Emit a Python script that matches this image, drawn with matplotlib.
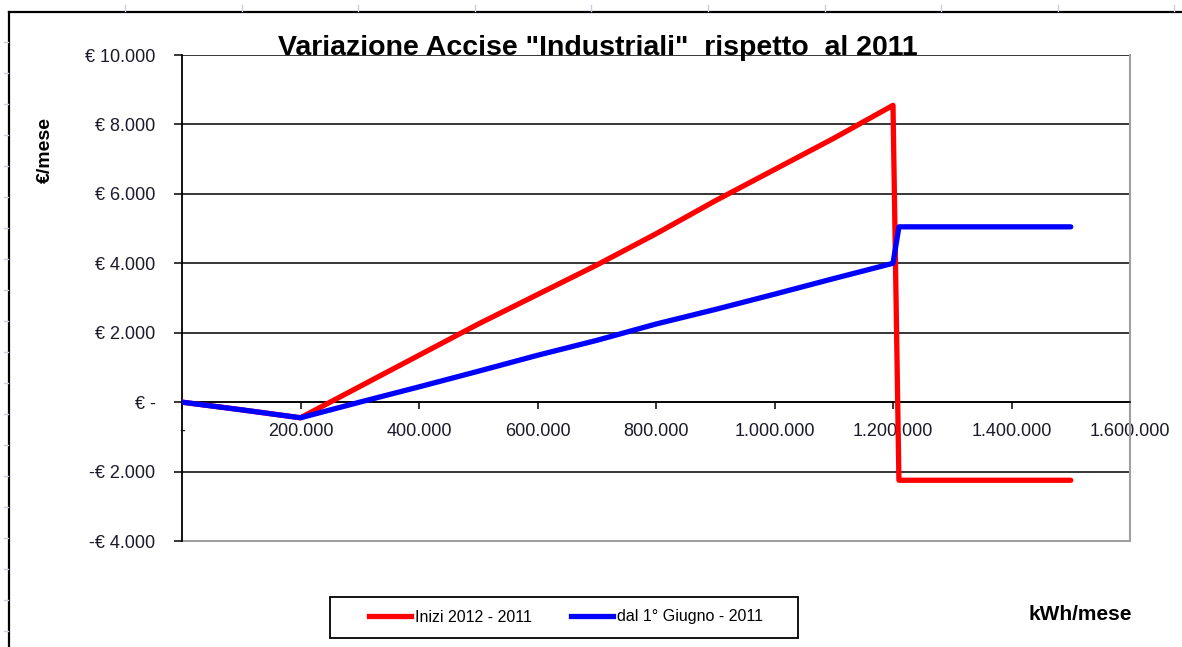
import matplotlib.pyplot as plt
from matplotlib.lines import Line2D
from matplotlib.patches import Rectangle
from matplotlib.ticker import FuncFormatter

plt.rcParams['font.family'] = ['Liberation Sans', 'DejaVu Sans']

#----------DATA----------
kwh = [0, 100000, 200000, 300000, 400000, 500000, 600000, 700000,
       800000, 900000, 1000000, 1100000, 1200000, 1210000, 1500000]
inizi_2012 = [0, -220, -450, 450, 1350, 2250, 3100, 3950,
              4850, 5800, 6700, 7600, 8550, -2250, -2250]
giugno = [0, -220, -450, 0, 440, 890, 1350, 1780,
          2250, 2670, 3110, 3560, 4000, 5050, 5050]

title = 'Variazione Accise "Industriali"  rispetto  al 2011'
series_labels = ["Inizi 2012 - 2011", "dal 1° Giugno - 2011"]


def it_num(v):
    # thousands with a dot, italian style
    return f"{int(round(v)):,}".replace(",", ".")


def euro_fmt(v, pos):
    if abs(v) < 1e-9:
        return "€ -"
    if v < 0:
        return "-€ " + it_num(-v)
    return "€ " + it_num(v)


def kwh_fmt(v, pos):
    if abs(v) < 1e-9:
        return "-"
    return it_num(v)


#----------FIGURE----------
fig = plt.figure(figsize=(11.82, 6.47), dpi=100)
W, H = 1182, 647
ax = fig.add_axes([182 / W, 1 - 541 / H, (1130 - 182) / W, (541 - 55) / H])

ax.plot(kwh, inizi_2012, color="#ff0000", lw=3.8, solid_joinstyle="round",
        solid_capstyle="round", zorder=3)
ax.plot(kwh, giugno, color="#0000ff", lw=3.8, solid_joinstyle="round",
        solid_capstyle="round", zorder=4)

ax.set_xlim(0, 1600000)
ax.set_ylim(-4000, 10000)
ax.set_yticks(range(-4000, 10001, 2000))
ax.set_xticks(range(0, 1600001, 200000))
ax.yaxis.set_major_formatter(FuncFormatter(euro_fmt))
ax.xaxis.set_major_formatter(FuncFormatter(kwh_fmt))

# horizontal gridlines
for yv in range(-2000, 10001, 2000):
    ax.axhline(yv, color="black", lw=1.1, zorder=1)

# x axis crosses at zero
ax.spines["bottom"].set_position(("data", 0))
ax.spines["bottom"].set_color("black")
ax.spines["bottom"].set_linewidth(1.2)
ax.spines["left"].set_linewidth(1.3)
ax.spines["top"].set_visible(False)
ax.spines["right"].set_color("#a0a0a0")
ax.spines["right"].set_linewidth(1.5)
# bottom frame edge (gray)
ax.axhline(-4000, color="#a0a0a0", lw=1.5, zorder=1, clip_on=False)

ax.tick_params(axis="y", direction="out", length=6, width=1.1, labelsize=13, pad=13)
ax.tick_params(axis="x", direction="out", length=5, width=1.1, labelsize=13, pad=10)
for lab in ax.get_xticklabels() + ax.get_yticklabels():
    lab.set_color("#1a1a2a")

ax.set_ylabel("€/mese", fontsize=14, fontweight="bold")
ax.yaxis.set_label_coords(-128 / (1130 - 182), 1 - (150 - 55) / (541 - 55))

fig.text(598 / W, 1 - 48 / H, title, ha="center", va="center",
         fontsize=20.5, fontweight="bold")
fig.text(1080 / W, 1 - 615 / H, "kWh/mese", ha="center", va="center",
         fontsize=15, fontweight="bold")

#----------LEGEND----------
handles = [Line2D([], [], color="#ff0000", lw=3.8),
           Line2D([], [], color="#0000ff", lw=3.8)]
leg = fig.legend(handles, series_labels, loc="center",
                 bbox_to_anchor=(566 / W, 1 - 617 / H), ncol=2, fontsize=11.5,
                 frameon=False, handlelength=2.6, handletextpad=0.25,
                 columnspacing=2.5)
fig.add_artist(Rectangle((330 / W, 1 - 638 / H), (798 - 330) / W, (638 - 597) / H,
                         transform=fig.transFigure, fill=False,
                         edgecolor="black", lw=1.3))

#----------OUTER CHART FRAME----------
fig.add_artist(Line2D([9 / W, 9 / W], [0, 1 - 12 / H], color="black", lw=1.6,
                      transform=fig.transFigure))
fig.add_artist(Line2D([9 / W, 1], [1 - 12 / H, 1 - 12 / H], color="black", lw=1.6,
                      transform=fig.transFigure))
# sheet grid stubs
for yy in range(42, 647, 31):
    fig.add_artist(Line2D([4 / W, 8 / W], [1 - yy / H, 1 - yy / H],
                          color="#c8cede", lw=1, transform=fig.transFigure))
for xx in [125, 242, 358, 475, 591, 708, 825, 941, 1058, 1174]:
    fig.add_artist(Line2D([xx / W, xx / W], [1 - 5 / H, 1 - 11 / H],
                          color="#c8cede", lw=1, transform=fig.transFigure))

fig.savefig("out.png", dpi=100)
